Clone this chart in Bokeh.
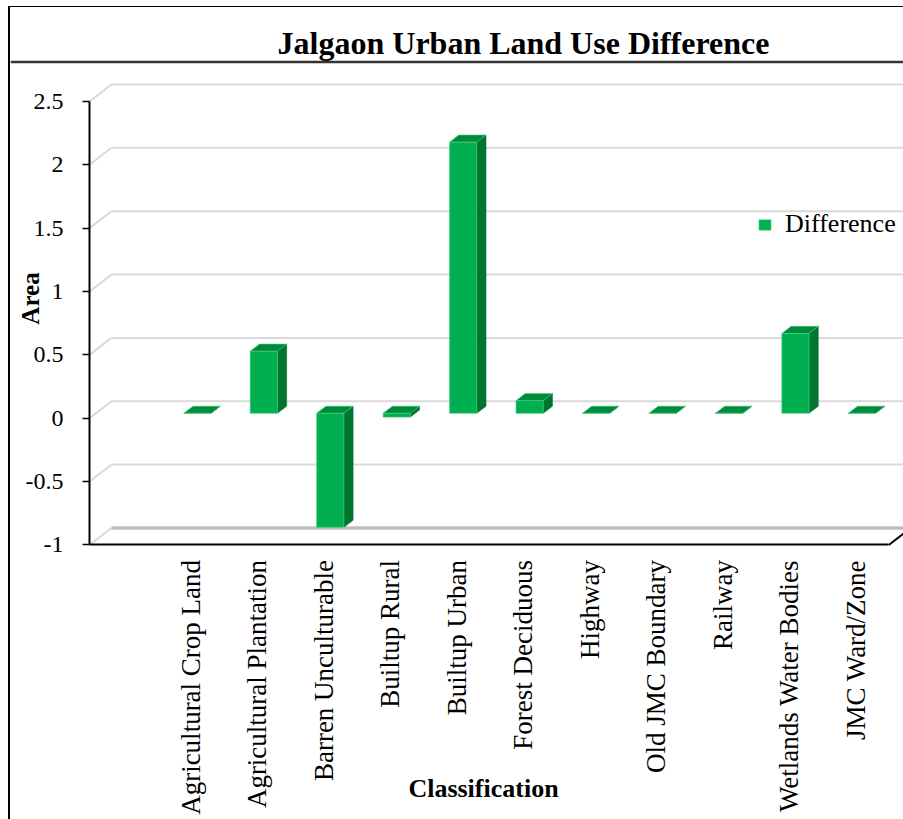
import math
from bokeh.plotting import figure
from bokeh.models import Range1d, FixedTicker, LinearAxis, Legend, LegendItem, Label, Span
from bokeh.layouts import column
from bokeh.embed import file_html
from bokeh.resources import INLINE

# ---------------- data ----------------
categories = [
    "Agricultural Crop Land", "Agricultural Plantation", "Barren Unculturable",
    "Builtup Rural", "Builtup Urban", "Forest Deciduous", "Highway",
    "Old JMC Boundary", "Railway", "Wetlands Water Bodies", "JMC Ward/Zone",
]
difference = [0.0, 0.49, -0.9, -0.03, 2.14, 0.1, 0.0, 0.0, 0.0, 0.63, 0.0]
y_ticks = [-1, -0.5, 0, 0.5, 1, 1.5, 2, 2.5]
y_tick_labels = ["-1", "-0.5", "0", "0.5", "1", "1.5", "2", "2.5"]
TITLE = "Jalgaon Urban Land Use Difference"
X_LABEL = "Classification"
Y_LABEL = "Area"
SERIES = "Difference"

# ---------------- style / layout ----------------
FONT = "Liberation Serif"
FRONT_C, SIDE_C, TOP_C = "#00B050", "#00752F", "#008A3C"
GRID_C, FLOOR_C = "#D9D9D9", "#BFBFBF"
DEPTH_X, DEPTH_Y = 0.331, 0.134      # full depth of the 3D box, data units
T_FRONT, T_BACK = 0.29, 0.71          # bar front / back depth fractions
BAR_W = 0.41
X_RANGE = (-2.716, 10.722)            # whole canvas is the plot frame
Y_RANGE = (-3.167, 3.2415)
Y_AXIS_AT = -1.527                    # front-left corner of the 3D box
X_AXIS_END = 10.5
Y_MIN, Y_MAX = -1.0, 2.5
TITLE_RULE_AT = 2.811
W, H = 893, 812

p = figure(width=W, height=H, x_range=Range1d(*X_RANGE), y_range=Range1d(*Y_RANGE),
           output_backend="svg", toolbar_location=None, min_border=0,
           x_axis_type=None, y_axis_type=None)
p.outline_line_color = None

n = len(y_ticks)
wall_x = Y_AXIS_AT + DEPTH_X
# side-wall diagonals and back-wall gridlines
p.segment([Y_AXIS_AT] * n, y_ticks, [wall_x] * n, [v + DEPTH_Y for v in y_ticks],
          line_color=GRID_C, line_width=2)
grid_vals = [v for v in y_ticks if v != Y_MIN]
p.segment([wall_x] * len(grid_vals), [v + DEPTH_Y for v in grid_vals],
          [X_RANGE[1]] * len(grid_vals), [v + DEPTH_Y for v in grid_vals],
          line_color=GRID_C, line_width=2)
# back edge of the floor
p.segment([wall_x], [Y_MIN + DEPTH_Y], [X_RANGE[1]], [Y_MIN + DEPTH_Y],
          line_color=FLOOR_C, line_width=3.5)
# right edge of the floor
p.line([X_AXIS_END, X_AXIS_END + DEPTH_X], [Y_MIN, Y_MIN + DEPTH_Y],
       line_color="black", line_width=2)

# 3D bars
ddx = (T_BACK - T_FRONT) * DEPTH_X
ddy = (T_BACK - T_FRONT) * DEPTH_Y
fxs, fys, sxs, sys_, txs, tys = [], [], [], [], [], []
for i, v in enumerate(difference):
    lo, hi = min(v, 0.0), max(v, 0.0)
    cx = i + T_FRONT * DEPTH_X
    xl, xr = cx - BAR_W / 2, cx + BAR_W / 2
    y0 = lo + T_FRONT * DEPTH_Y
    y1 = hi + T_FRONT * DEPTH_Y
    fxs.append([xl, xr, xr, xl]); fys.append([y0, y0, y1, y1])
    sxs.append([xr, xr + ddx, xr + ddx, xr]); sys_.append([y0, y0 + ddy, y1 + ddy, y1])
    txs.append([xl, xr, xr + ddx, xl + ddx]); tys.append([y1, y1, y1 + ddy, y1 + ddy])

p.patches(sxs, sys_, fill_color=SIDE_C, line_color=SIDE_C, line_width=0.5)
p.patches(txs, tys, fill_color=TOP_C, line_color="#3FCB7A", line_width=0.6)
front_r = p.patches(fxs, fys, fill_color=FRONT_C, line_color="#45CF80", line_width=0.6)

# axes (fixed at the front corner of the 3D box)
yaxis = LinearAxis(ticker=FixedTicker(ticks=y_ticks), bounds=(Y_MIN, Y_MAX),
                   fixed_location=Y_AXIS_AT,
                   major_label_overrides={tk: lb for tk, lb in zip(y_ticks, y_tick_labels)})
yaxis.axis_line_color = "black"
yaxis.axis_line_width = 2
yaxis.major_tick_out = 7
yaxis.major_tick_in = 0
yaxis.major_tick_line_width = 1.5
yaxis.minor_tick_out = 0
yaxis.minor_tick_in = 0
yaxis.major_label_standoff = 19
yaxis.major_label_text_font = FONT
yaxis.major_label_text_font_size = "24px"
yaxis.major_label_text_color = "black"
p.add_layout(yaxis, "left")

xaxis = LinearAxis(ticker=FixedTicker(ticks=list(range(len(categories)))),
                   bounds=(Y_AXIS_AT, X_AXIS_END), fixed_location=Y_MIN,
                   major_label_overrides={i: c for i, c in enumerate(categories)})
xaxis.axis_line_color = "black"
xaxis.axis_line_width = 2
xaxis.major_tick_out = 0
xaxis.major_tick_in = 0
xaxis.minor_tick_out = 0
xaxis.minor_tick_in = 0
xaxis.major_label_orientation = math.pi / 2
xaxis.major_label_standoff = 15
xaxis.major_label_text_font = FONT
xaxis.major_label_text_font_size = "27px"
xaxis.major_label_text_color = "black"
p.add_layout(xaxis, "below")

# titles
p.add_layout(Label(x=513, y=H - 35, x_units="screen", y_units="screen", text=TITLE,
                   text_font=FONT, text_font_style="bold", text_font_size="32px",
                   text_align="center", text_baseline="middle", text_color="black"))
p.add_layout(Span(location=TITLE_RULE_AT, dimension="width", line_color="#333333",
                  line_width=2.5))
p.add_layout(Label(x=20, y=H - 291, x_units="screen", y_units="screen", text=Y_LABEL,
                   angle=math.pi / 2, text_font=FONT, text_font_style="bold",
                   text_font_size="25px", text_align="center", text_baseline="middle",
                   text_color="black"))
p.add_layout(Label(x=473, y=H - 781, x_units="screen", y_units="screen", text=X_LABEL,
                   text_font=FONT, text_font_style="bold", text_font_size="26px",
                   text_align="center", text_baseline="middle", text_color="black"))

legend = Legend(items=[LegendItem(label=SERIES, renderers=[front_r])],
                location=(747, 580), padding=0, margin=0, spacing=0,
                glyph_width=15, glyph_height=13, label_standoff=13,
                label_text_font=FONT, label_text_font_size="26px",
                label_text_color="black",
                border_line_alpha=0, background_fill_alpha=0)
p.add_layout(legend)

layout = column(p, spacing=0, margin=(6, 0, 0, 8),
                styles={"border-left": "2px solid black", "border-top": "1px solid black"})

open("out.html", "w").write(file_html(layout, INLINE))
